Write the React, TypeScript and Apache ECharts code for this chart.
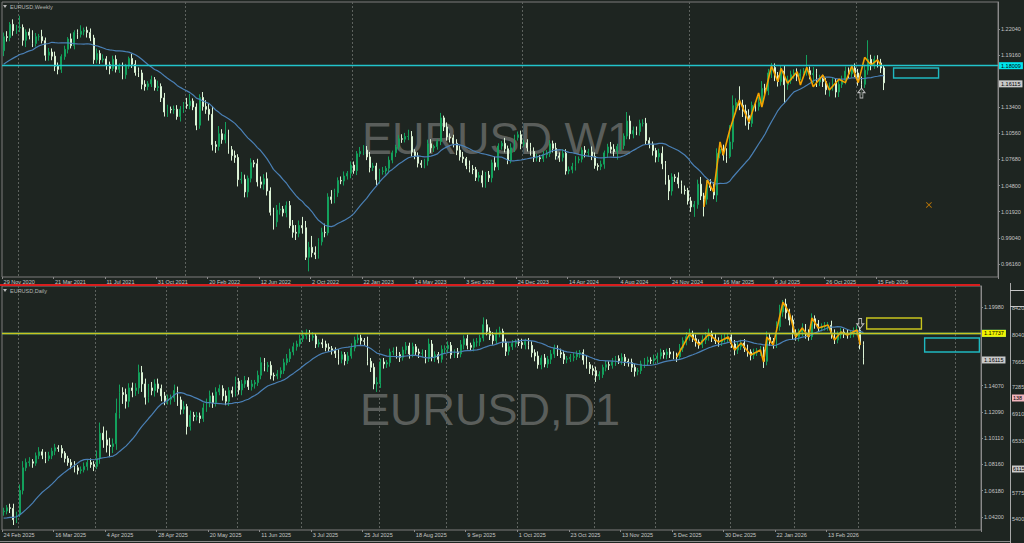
import React, { useEffect, useRef } from 'react';
import * as echarts from 'echarts';

// ---------- tick labels ----------
const TICK_STEP = 16;
const weeklyTicks = ['29 Nov 2020', '21 Mar 2021', '11 Jul 2021', '31 Oct 2021', '20 Feb 2022', '12 Jun 2022', '2 Oct 2022', '22 Jan 2023', '14 May 2023', '3 Sep 2023', '24 Dec 2023', '14 Apr 2024', '4 Aug 2024', '24 Nov 2024', '16 Mar 2025', '6 Jul 2025', '26 Oct 2025', '15 Feb 2026'];
const dailyTicks = ['24 Feb 2025', '16 Mar 2025', '4 Apr 2025', '28 Apr 2025', '20 May 2025', '11 Jun 2025', '3 Jul 2025', '25 Jul 2025', '18 Aug 2025', '9 Sep 2025', '1 Oct 2025', '23 Oct 2025', '13 Nov 2025', '5 Dec 2025', '30 Dec 2025', '22 Jan 2026', '13 Feb 2026'];
const weeklyPriceTicks = [1.2204, 1.1916, 1.134, 1.1056, 1.0768, 1.048, 1.0192, 0.9904, 0.9616];
const dailyPriceTicks = [1.1998, 1.1407, 1.1209, 1.1011, 1.0816, 1.0618, 1.042];
const weeklyGridIdx = [5, 57, 109, 162, 214, 266];
const dailyGridIdx = [5, 29, 51, 73, 93, 117, 138, 160, 184, 203, 226, 246, 266, 296];

// ---------- levels ----------
const cyanLevel = 1.18009;
const yellowLevel = 1.17737;
const bidPrice = 1.16115;
const weeklyBox = [277, 291, 1.1775, 1.1664];
const dailyYellowBox = [268, 285, 1.1915, 1.1833];
const dailyCyanBox = [286, 303, 1.1765, 1.166];
const weeklyArrow = [267, 1.1499];
const weeklyCross = [288, 1.0266];
const dailyArrow = [266, 1.1874];

// ---------- weekly data (bar 0 = week of 29 Nov 2020) ----------
const weeklyOpen0 = 1.1965;
const weeklyPre = [1.1655, 1.1778, 1.1785, 1.184, 1.1795, 1.1905, 1.184, 1.1845, 1.185, 1.163, 1.1715, 1.1825, 1.172, 1.186, 1.1645, 1.1875, 1.1835, 1.1855, 1.1965];
const weeklyClose = [
  1.2120, 1.2110, 1.2255, 1.2185, 1.2215, 1.2220, 1.2080, 1.2170, 1.2135, 1.2045,
  1.2120, 1.2120, 1.2075, 1.1915, 1.1950, 1.1905, 1.1795, 1.1760, 1.1900, 1.1980,
  1.2095, 1.2020, 1.2165, 1.2145, 1.2180, 1.2190, 1.2165, 1.2105, 1.1865, 1.1935,
  1.1865, 1.1875, 1.1810, 1.1770, 1.1870, 1.1760, 1.1795, 1.1700, 1.1795, 1.1880,
  1.1815, 1.1725, 1.1720, 1.1595, 1.1570, 1.1600, 1.1645, 1.1560, 1.1570, 1.1445,
  1.1290, 1.1320, 1.1315, 1.1320, 1.1240, 1.1320, 1.1370, 1.1360, 1.1410, 1.1345,
  1.1145, 1.1450, 1.1350, 1.1320, 1.1265, 1.0930, 1.0910, 1.1050, 1.0985, 1.1045,
  1.0875, 1.0810, 1.0790, 1.0545, 1.0550, 1.0410, 1.0560, 1.0730, 1.0720, 1.0520,
  1.0495, 1.0555, 1.0420, 1.0185, 1.0080, 1.0210, 1.0220, 1.0180, 1.0260, 1.0040,
  0.9965, 0.9955, 1.0040, 1.0015, 0.9690, 0.9800, 0.9740, 0.9720, 0.9860, 0.9965,
  0.9960, 1.0355, 1.0325, 1.0400, 1.0535, 1.0530, 1.0585, 1.0615, 1.0705, 1.0645,
  1.0830, 1.0855, 1.0870, 1.0795, 1.0680, 1.0695, 1.0545, 1.0635, 1.0640, 1.0670,
  1.0760, 1.0840, 1.0905, 1.0995, 1.0990, 1.1020, 1.1020, 1.0850, 1.0805, 1.0725,
  1.0710, 1.0750, 1.0940, 1.0895, 1.0910, 1.0965, 1.1225, 1.1125, 1.1015, 1.1005,
  1.0945, 1.0870, 1.0795, 1.0775, 1.0700, 1.0660, 1.0655, 1.0570, 1.0590, 1.0510,
  1.0595, 1.0565, 1.0730, 1.0685, 1.0915, 1.0945, 1.0885, 1.0760, 1.0895, 1.1010,
  1.1040, 1.0940, 1.0950, 1.0895, 1.0855, 1.0785, 1.0785, 1.0775, 1.0820, 1.0835,
  1.0940, 1.0890, 1.0805, 1.0790, 1.0835, 1.0640, 1.0655, 1.0690, 1.0760, 1.0770,
  1.0870, 1.0845, 1.0850, 1.0800, 1.0700, 1.0690, 1.0715, 1.0840, 1.0905, 1.0880,
  1.0855, 1.0910, 1.0920, 1.1025, 1.1190, 1.1050, 1.1085, 1.1075, 1.1165, 1.1165,
  1.0975, 1.0935, 1.0865, 1.0795, 1.0835, 1.0720, 1.0540, 1.0420, 1.0575, 1.0565,
  1.0500, 1.0430, 1.0425, 1.0310, 1.0245, 1.0270, 1.0495, 1.0365, 1.0330, 1.0490,
  1.0460, 1.0375, 1.0835, 1.0880, 1.0815, 1.0800, 1.0960, 1.1360, 1.1395, 1.1365,
  1.1300, 1.1250, 1.1165, 1.1365, 1.1350, 1.1395, 1.1550, 1.1525, 1.1720, 1.1780,
  1.1690, 1.1625, 1.1740, 1.1590, 1.1640, 1.1700, 1.1720, 1.1685, 1.1715, 1.1735,
  1.1745, 1.1700, 1.1715, 1.1620, 1.1655, 1.1625, 1.1535, 1.1565, 1.1620, 1.1510,
  1.1595, 1.1640, 1.1740, 1.1710, 1.1775, 1.1720, 1.1635, 1.1595, 1.1750, 1.1870,
  1.1810, 1.1870, 1.1830, 1.1775, 1.16115,
];
// upper / lower wick lengths in pips
const weeklyUpWick = [
  45, 60, 25, 55, 35, 130, 35, 30, 40, 55, 40, 30, 75, 35, 45, 40, 50, 40, 25, 40,
  20, 60, 25, 35, 65, 30, 40, 45, 35, 55, 35, 50, 30, 35, 40, 45, 30, 40, 25, 20,
  50, 45, 55, 35, 45, 30, 45, 30, 65, 35, 55, 50, 30, 40, 45, 35, 30, 75, 80, 30,
  40, 35, 60, 70, 65, 90, 40, 85, 50, 135, 50, 40, 55, 35, 80, 50, 30, 50, 30, 55,
  60, 50, 70, 40, 50, 55, 70, 35, 45, 50, 60, 80, 55, 95, 75, 60, 125, 70, 40, 50,
  95, 40, 75, 45, 35, 45, 50, 25, 40, 40, 30, 50, 55, 45, 55, 35, 35, 30, 45, 25,
  40, 25, 25, 40, 50, 40, 75, 60, 30, 40, 35, 25, 45, 50, 20, 25, 55, 25, 50, 40,
  35, 45, 50, 55, 20, 55, 45, 30, 40, 55, 35, 45, 35, 70, 30, 25, 60, 35, 50, 30,
  35, 45, 35, 40, 55, 45, 45, 30, 40, 35, 40, 35, 60, 40, 45, 45, 35, 40, 45, 30,
  30, 45, 35, 60, 45, 25, 40, 25, 35, 55, 55, 30, 65, 30, 100, 60, 45, 45, 40, 45,
  60, 35, 30, 30, 50, 75, 30, 55, 40, 30, 60, 35, 50, 30, 45, 40, 50, 80, 35, 50,
  60, 55, 55, 75, 50, 75, 185, 113, 45, 178, 60, 70, 70, 40, 45, 60, 80, 50, 45, 50,
  45, 40, 55, 60, 50, 45, 40, 50, 45, 40, 173, 45, 70, 50, 45, 45, 40, 50, 45, 40,
  45, 50, 50, 40, 35, 50, 45, 45, 60, 210, 50, 40, 45, 45, 25,
];
const weeklyLowWick = [
  60, 45, 40, 55, 35, 45, 60, 75, 45, 40, 35, 45, 30, 60, 60, 45, 55, 55, 40, 35,
  45, 30, 40, 50, 35, 45, 55, 35, 45, 40, 45, 30, 55, 65, 30, 35, 40, 50, 45, 30,
  40, 35, 45, 55, 45, 40, 35, 35, 40, 45, 50, 55, 40, 45, 35, 55, 40, 35, 40, 35,
  55, 40, 45, 50, 70, 65, 70, 45, 45, 40, 45, 55, 60, 75, 45, 60, 60, 45, 40, 50,
  45, 60, 50, 35, 85, 55, 50, 40, 50, 30, 60, 75, 45, 65, 30, 155, 50, 50, 45, 40,
  50, 30, 45, 40, 45, 35, 50, 40, 55, 35, 50, 35, 40, 35, 55, 40, 60, 45, 35, 40,
  55, 35, 45, 30, 40, 35, 40, 50, 35, 45, 35, 40, 50, 55, 45, 35, 40, 45, 40, 50,
  45, 55, 40, 45, 40, 35, 50, 40, 45, 50, 55, 45, 50, 40, 35, 40, 40, 45, 35, 45,
  35, 60, 35, 40, 45, 45, 40, 35, 35, 40, 40, 45, 40, 50, 45, 40, 35, 40, 45, 35,
  35, 55, 50, 40, 35, 45, 40, 50, 55, 45, 55, 90, 45, 40, 35, 60, 50, 40, 45, 35,
  40, 45, 55, 60, 55, 60, 50, 100, 50, 45, 50, 40, 45, 40, 55, 110, 45, 45, 190, 60,
  40, 45, 75, 55, 60, 70, 20, 80, 95, 55, 65, 110, 70, 40, 55, 45, 35, 60, 50, 55,
  60, 55, 45, 200, 55, 40, 45, 55, 45, 50, 45, 50, 90, 55, 45, 60, 55, 75, 40, 60,
  55, 40, 45, 50, 40, 45, 55, 120, 40, 50, 60, 45, 50, 55, 80,
];
const weeklyZigIdx = [218, 219, 221, 223, 224, 226, 227, 229, 232, 235, 236, 239, 241, 242, 244, 247, 248, 250, 252, 255, 257, 260, 262, 264, 266, 268, 270, 272, 273];
const weeklyZigVal = [1.0244, 1.0541, 1.0409, 1.096, 1.0816, 1.1092, 1.1202, 1.1422, 1.118, 1.1499, 1.1345, 1.1797, 1.1624, 1.1771, 1.1606, 1.1734, 1.1587, 1.1782, 1.1569, 1.1697, 1.1532, 1.165, 1.1613, 1.1797, 1.1613, 1.1892, 1.1808, 1.1863, 1.1808];

// ---------- daily data (bar 0 = 24 Feb 2025) ----------
const dailyOpen0 = 1.046;
const dailyPre = [1.043, 1.042, 1.039, 1.036, 1.0345, 1.038, 1.0405, 1.038, 1.033, 1.0305, 1.036, 1.0385, 1.0465, 1.049, 1.0485, 1.0445, 1.042, 1.0505, 1.046];
const dailyClose = [
  1.0465, 1.0490, 1.0485, 1.0400, 1.0440, 1.0620, 1.0790, 1.0830, 1.0835, 1.0825,
  1.0880, 1.0910, 1.0885, 1.0860, 1.0880, 1.0915, 1.0940, 1.0935, 1.0900, 1.0860,
  1.0830, 1.0810, 1.0790, 1.0770, 1.0775, 1.0800, 1.0830, 1.0815, 1.0800, 1.0860,
  1.1050, 1.1000, 1.0960, 1.0950, 1.0970, 1.1200, 1.1355, 1.1340, 1.1290, 1.1390,
  1.1370, 1.1390, 1.1505, 1.1420, 1.1320, 1.1390, 1.1370, 1.1420, 1.1385, 1.1330,
  1.1295, 1.1305, 1.1315, 1.1370, 1.1300, 1.1230, 1.1250, 1.1100, 1.1185, 1.1175,
  1.1180, 1.1160, 1.1240, 1.1280, 1.1330, 1.1280, 1.1360, 1.1385, 1.1330, 1.1290,
  1.1370, 1.1350, 1.1440, 1.1375, 1.1420, 1.1445, 1.1400, 1.1420, 1.1430, 1.1485,
  1.1580, 1.1550, 1.1560, 1.1485, 1.1480, 1.1495, 1.1520, 1.1580, 1.1610, 1.1660,
  1.1700, 1.1720, 1.1760, 1.1785, 1.1800, 1.1770, 1.1780, 1.1720, 1.1730, 1.1720,
  1.1695, 1.1685, 1.1670, 1.1650, 1.1605, 1.1640, 1.1595, 1.1630, 1.1690, 1.1750,
  1.1765, 1.1745, 1.1740, 1.1590, 1.1545, 1.1420, 1.1430, 1.1585, 1.1570, 1.1580,
  1.1660, 1.1665, 1.1640, 1.1620, 1.1675, 1.1705, 1.1645, 1.1700, 1.1660, 1.1650,
  1.1650, 1.1610, 1.1720, 1.1620, 1.1640, 1.1605, 1.1680, 1.1685, 1.1710, 1.1640,
  1.1660, 1.1645, 1.1715, 1.1760, 1.1710, 1.1695, 1.1735, 1.1735, 1.1765, 1.1865,
  1.1815, 1.1785, 1.1745, 1.1800, 1.1815, 1.1735, 1.1665, 1.1700, 1.1725, 1.1735,
  1.1730, 1.1715, 1.1740, 1.1710, 1.1655, 1.1630, 1.1565, 1.1615, 1.1570, 1.1605,
  1.1645, 1.1690, 1.1655, 1.1645, 1.1605, 1.1610, 1.1620, 1.1625, 1.1645, 1.1655,
  1.1600, 1.1565, 1.1535, 1.1520, 1.1480, 1.1490, 1.1545, 1.1565, 1.1560, 1.1585,
  1.1610, 1.1595, 1.1620, 1.1590, 1.1580, 1.1545, 1.1515, 1.1520, 1.1570, 1.1585,
  1.1600, 1.1595, 1.1610, 1.1630, 1.1655, 1.1640, 1.1660, 1.1645, 1.1630, 1.1625,
  1.1690, 1.1745, 1.1775, 1.1795, 1.1760, 1.1735, 1.1715, 1.1750, 1.1780, 1.1795,
  1.1765, 1.1745, 1.1735, 1.1755, 1.1765, 1.1773, 1.1720, 1.1675, 1.1700, 1.1727,
  1.1690, 1.1660, 1.1637, 1.1655, 1.1665, 1.1675, 1.1590, 1.1770, 1.1740, 1.1715,
  1.1850, 1.1960, 1.2020, 1.1955, 1.1900, 1.1800, 1.1775, 1.1810, 1.1840, 1.1800,
  1.1775, 1.1910, 1.1870, 1.1840, 1.1850, 1.1855, 1.1860, 1.1800, 1.1750, 1.1790,
  1.1810, 1.1800, 1.1790, 1.1800, 1.1815, 1.1825, 1.1715, 1.16115,
];
const dailyUpWick = [
  25, 20, 30, 35, 20, 45, 50, 30, 35, 20, 25, 35, 20, 25, 30, 25, 30, 20, 25, 15,
  20, 25, 30, 20, 25, 30, 20, 30, 25, 60, 80, 50, 70, 55, 40, 110, 60, 40, 45, 35,
  40, 35, 60, 50, 40, 30, 45, 35, 40, 30, 30, 35, 25, 45, 30, 25, 40, 20, 35, 25,
  30, 25, 35, 30, 40, 25, 35, 30, 25, 40, 25, 30, 35, 25, 30, 35, 25, 30, 20, 35,
  40, 35, 25, 30, 20, 30, 25, 30, 35, 25, 30, 25, 30, 35, 30, 25, 30, 20, 25, 30,
  25, 30, 20, 25, 30, 25, 20, 30, 35, 25, 30, 25, 20, 35, 25, 30, 40, 25, 30, 20,
  25, 30, 35, 20, 25, 30, 25, 30, 20, 25, 30, 25, 40, 30, 25, 20, 30, 25, 30, 25,
  20, 30, 35, 25, 30, 20, 25, 30, 25, 55, 40, 30, 25, 30, 35, 20, 25, 30, 25, 20,
  25, 30, 20, 25, 30, 25, 35, 20, 30, 25, 30, 25, 20, 30, 25, 20, 25, 30, 25, 20,
  25, 30, 20, 25, 30, 25, 20, 30, 25, 30, 20, 25, 30, 25, 20, 30, 25, 20, 25, 30,
  25, 20, 30, 25, 30, 20, 25, 30, 20, 25, 30, 25, 35, 40, 25, 30, 20, 35, 30, 40,
  25, 30, 25, 35, 30, 25, 20, 30, 35, 25, 30, 25, 20, 30, 25, 30, 25, 45, 30, 25,
  40, 55, 30, 40, 30, 35, 30, 25, 35, 30, 30, 40, 25, 30, 25, 30, 25, 35, 30, 25,
  30, 25, 30, 25, 30, 35, 30, 25,
];
const dailyLowWick = [
  30, 25, 35, 40, 25, 20, 30, 25, 30, 35, 20, 25, 30, 35, 20, 25, 30, 25, 35, 30,
  25, 30, 35, 30, 25, 20, 30, 25, 35, 20, 40, 60, 55, 80, 50, 45, 40, 70, 55, 45,
  50, 40, 45, 60, 55, 40, 35, 45, 30, 40, 35, 30, 40, 30, 45, 40, 35, 60, 30, 35,
  30, 35, 25, 30, 35, 40, 30, 25, 35, 30, 35, 30, 25, 35, 40, 30, 25, 30, 35, 25,
  30, 35, 40, 30, 35, 25, 30, 25, 20, 25, 25, 30, 20, 25, 30, 35, 25, 30, 25, 30,
  30, 25, 30, 35, 40, 30, 35, 25, 20, 25, 25, 30, 35, 30, 35, 40, 60, 40, 35, 30,
  30, 25, 30, 35, 25, 30, 35, 25, 30, 35, 30, 35, 25, 30, 35, 30, 25, 30, 35, 30,
  25, 30, 25, 35, 30, 25, 30, 35, 30, 25, 30, 35, 30, 25, 30, 40, 35, 30, 25, 30,
  25, 30, 35, 30, 35, 40, 30, 35, 25, 30, 35, 30, 25, 30, 35, 30, 25, 30, 25, 30,
  35, 30, 40, 35, 45, 30, 25, 30, 35, 25, 30, 25, 30, 35, 30, 35, 40, 30, 25, 30,
  30, 25, 30, 35, 25, 30, 35, 30, 25, 40, 25, 30, 35, 30, 25, 35, 30, 25, 30, 35,
  30, 25, 35, 30, 25, 35, 30, 40, 30, 25, 30, 35, 40, 30, 25, 35, 50, 30, 35, 30,
  25, 30, 35, 45, 40, 50, 30, 35, 30, 40, 30, 25, 35, 30, 25, 30, 35, 40, 30, 25,
  30, 35, 30, 25, 30, 30, 35, 45,
];
const dailyZigIdx = [209, 213, 216, 219, 222, 225, 227, 229, 232, 235, 236, 237, 239, 242, 244, 246, 248, 250, 251, 253, 256, 258, 260, 262, 265, 266];
const dailyZigVal = [1.1622, 1.1795, 1.1713, 1.1795, 1.1735, 1.1773, 1.1675, 1.1727, 1.1637, 1.1675, 1.1585, 1.1773, 1.1713, 1.2035, 1.1953, 1.1773, 1.184, 1.1773, 1.1915, 1.184, 1.1863, 1.175, 1.181, 1.1788, 1.1825, 1.1713];

// ---------- styling ----------
const FONT = '"Liberation Sans", Arial, sans-serif';
const BG = '#1e2521';
const BULL = '#13a05c';
const BEAR = '#dcf3d6';
const GRIDLINE = '#5d625e';
const AXIS = '#8a8a8a';
const LABEL = '#c6c6c6';
const W_N = 310;
const D_N = 304;

function buildOHLC(open0: number, closes: number[], up: number[], lo: number[]) {
  return closes.map((c, i) => {
    const o = i === 0 ? open0 : closes[i - 1];
    const h = Math.max(o, c) + (up[i] || 0) / 10000;
    const l = Math.min(o, c) - (lo[i] || 0) / 10000;
    return [o, c, +l.toFixed(5), +h.toFixed(5)];
  });
}
function sma(pre: number[], closes: number[], n: number) {
  const all = pre.concat(closes);
  return closes.map((_, i) => {
    let s = 0;
    for (let k = 0; k < n; k++) s += all[i + pre.length - k];
    return +(s / n).toFixed(5);
  });
}
function sparse(n: number, idx: number[], vals: number[]) {
  const a: (number | null)[] = new Array(n).fill(null);
  idx.forEach((k, j) => { a[k] = vals[j]; });
  return a;
}

function xAxisFor(gridIndex: number, n: number, ticks: string[], gridIdx: number[]) {
  const show = (i: number) => i % TICK_STEP === 0 && i / TICK_STEP < ticks.length;
  return {
    type: 'category', gridIndex, boundaryGap: true,
    data: Array.from({ length: n }, (_, i) => String(i)),
    axisLine: { show: false },
    axisTick: { show: true, interval: show, length: 2, lineStyle: { color: AXIS } },
    axisLabel: {
      show: true, interval: show, align: 'left', margin: 2, fontSize: 5.5, color: LABEL, fontFamily: FONT,
      formatter: (v: string) => ticks[Number(v) / TICK_STEP] ?? '',
    },
    splitLine: { show: true, interval: (i: number) => gridIdx.includes(i), lineStyle: { color: GRIDLINE, type: [2, 2], width: 1 } },
  };
}
function yAxisFor(gridIndex: number, min: number, max: number, ticks: number[]) {
  return {
    type: 'value', gridIndex, position: 'right', min, max,
    axisLine: { show: true, lineStyle: { color: AXIS } },
    axisTick: { show: true, customValues: ticks, length: 2, lineStyle: { color: AXIS } },
    axisLabel: { show: true, customValues: ticks, margin: 3, fontSize: 5.5, color: LABEL, fontFamily: FONT, formatter: (v: number) => v.toFixed(5) },
    splitLine: { show: false },
  };
}
const boxLabel = (bg: string, text: string) => ({
  show: true, position: 'end', distance: 1, formatter: text, backgroundColor: bg, color: '#000',
  fontSize: 5.5, fontFamily: FONT, padding: [1, 2, 0, 2], lineHeight: 6,
});
const upArrow = 'path://M5,0 L10,5 L7,5 L7,11 L3,11 L3,5 L0,5 Z';
const downArrow = 'path://M3,0 L7,0 L7,6 L10,6 L5,11 L0,6 L3,6 Z';
const crossSym = 'path://M0,1 L1,0 L5,4 L9,0 L10,1 L6,5 L10,9 L9,10 L5,6 L1,10 L0,9 L4,5 Z';

function buildOption() {
  const wOHLC = buildOHLC(weeklyOpen0, weeklyClose, weeklyUpWick, weeklyLowWick);
  const dOHLC = buildOHLC(dailyOpen0, dailyClose, dailyUpWick, dailyLowWick);
  const candleStyle = { color: BULL, color0: BEAR, borderColor: BULL, borderColor0: BEAR, borderWidth: 1 };
  const sideTexts = [
    ['8420', 308], ['8040', 335], ['7665', 362], ['7285', 387], ['6910', 414], ['6530', 441], ['5775', 493], ['5400', 519],
  ];
  return {
    animation: false,
    backgroundColor: BG,
    grid: [
      { left: 2, top: 2, right: 26, height: 275, show: true, borderColor: '#7c7c7c', borderWidth: 1, backgroundColor: 'transparent' },
      { left: 2, top: 286, right: 43, height: 244, show: true, borderColor: '#7c7c7c', borderWidth: 1, backgroundColor: 'transparent' },
    ],
    xAxis: [xAxisFor(0, W_N, weeklyTicks, weeklyGridIdx), xAxisFor(1, D_N, dailyTicks, dailyGridIdx)],
    yAxis: [yAxisFor(0, 0.94727, 1.25014, weeklyPriceTicks), yAxisFor(1, 1.03226, 1.21558, dailyPriceTicks)],
    series: [
      {
        type: 'candlestick', name: 'EURUSD,Weekly', xAxisIndex: 0, yAxisIndex: 0, data: wOHLC, barWidth: 1.4, itemStyle: candleStyle,
        markLine: {
          symbol: ['none', 'none'], silent: true,
          data: [
            { yAxis: cyanLevel, lineStyle: { color: '#22c4cc', width: 1.3, type: 'solid' }, label: boxLabel('#00e6ee', '1.18009') },
            { yAxis: bidPrice, lineStyle: { color: 'rgba(0,0,0,0)', width: 0 }, label: boxLabel('#c9c9c9', '1.16115') },
          ],
        },
        markArea: {
          silent: true,
          itemStyle: { color: 'rgba(0,0,0,0)', borderColor: '#1fb8c0', borderWidth: 1.4 },
          data: [[{ xAxis: weeklyBox[0], yAxis: weeklyBox[2] }, { xAxis: weeklyBox[1], yAxis: weeklyBox[3] }]],
        },
      },
      {
        type: 'line', xAxisIndex: 0, yAxisIndex: 0, data: sma(weeklyPre, weeklyClose, 20), symbol: 'none',
        lineStyle: { color: '#4a80b6', width: 1.2 }, z: 3,
      },
      {
        type: 'line', xAxisIndex: 0, yAxisIndex: 0, data: sparse(W_N, weeklyZigIdx, weeklyZigVal), connectNulls: true, symbol: 'none',
        lineStyle: { color: '#f4a200', width: 1.6 }, z: 4,
      },
      {
        type: 'scatter', xAxisIndex: 0, yAxisIndex: 0, z: 5,
        data: [
          { value: weeklyArrow, symbol: upArrow, symbolSize: [7, 10], itemStyle: { color: BG, borderColor: '#e2e2e2', borderWidth: 1 } },
          { value: weeklyCross, symbol: crossSym, symbolSize: [6, 6], itemStyle: { color: '#e08a00' } },
        ],
      },
      {
        type: 'candlestick', name: 'EURUSD,Daily', xAxisIndex: 1, yAxisIndex: 1, data: dOHLC, barWidth: 1.4, itemStyle: candleStyle,
        markLine: {
          symbol: ['none', 'none'], silent: true,
          data: [
            { yAxis: cyanLevel, lineStyle: { color: '#22c4cc', width: 1.3, type: 'solid' }, label: boxLabel('#00e6ee', '1.18009') },
            { yAxis: yellowLevel, lineStyle: { color: '#c8c41e', width: 1.3, type: 'solid' }, label: boxLabel('#f2f200', '1.17737') },
            { yAxis: bidPrice, lineStyle: { color: 'rgba(0,0,0,0)', width: 0 }, label: boxLabel('#c9c9c9', '1.16115') },
          ],
        },
        markArea: {
          silent: true,
          data: [
            [{ xAxis: dailyYellowBox[0], yAxis: dailyYellowBox[2], itemStyle: { color: 'rgba(0,0,0,0)', borderColor: '#c8c41e', borderWidth: 1.4 } }, { xAxis: dailyYellowBox[1], yAxis: dailyYellowBox[3] }],
            [{ xAxis: dailyCyanBox[0], yAxis: dailyCyanBox[2], itemStyle: { color: 'rgba(0,0,0,0)', borderColor: '#1fb8c0', borderWidth: 1.4 } }, { xAxis: dailyCyanBox[1], yAxis: dailyCyanBox[3] }],
          ],
        },
      },
      {
        type: 'line', xAxisIndex: 1, yAxisIndex: 1, data: sma(dailyPre, dailyClose, 20), symbol: 'none',
        lineStyle: { color: '#4a80b6', width: 1.2 }, z: 3,
      },
      {
        type: 'line', xAxisIndex: 1, yAxisIndex: 1, data: sparse(D_N, dailyZigIdx, dailyZigVal), connectNulls: true, symbol: 'none',
        lineStyle: { color: '#f4a200', width: 1.6 }, z: 4,
      },
      {
        type: 'scatter', xAxisIndex: 1, yAxisIndex: 1, z: 5,
        data: [{ value: dailyArrow, symbol: downArrow, symbolSize: [7, 10], itemStyle: { color: BG, borderColor: '#e2e2e2', borderWidth: 1 } }],
      },
    ],
    graphic: [
      { type: 'text', x: 497, y: 138, z: 0, silent: true, style: { text: 'EURUSD,W1', fill: '#5a5e5b', fontSize: 45, fontFamily: FONT, align: 'center', verticalAlign: 'middle' } },
      { type: 'text', x: 490, y: 409, z: 0, silent: true, style: { text: 'EURUSD,D1', fill: '#5a5e5b', fontSize: 45, fontFamily: FONT, align: 'center', verticalAlign: 'middle' } },
      { type: 'polygon', z: 10, shape: { points: [[3, 5], [7, 5], [5, 8]] }, style: { fill: '#b8b8b8' } },
      { type: 'text', x: 10, y: 6.5, z: 10, style: { text: 'EURUSD,Weekly', fill: '#b4b6b4', fontSize: 5.5, fontFamily: FONT, verticalAlign: 'middle' } },
      { type: 'polygon', z: 10, shape: { points: [[3, 289], [7, 289], [5, 292]] }, style: { fill: '#b8b8b8' } },
      { type: 'text', x: 10, y: 290.5, z: 10, style: { text: 'EURUSD,Daily', fill: '#b4b6b4', fontSize: 5.5, fontFamily: FONT, verticalAlign: 'middle' } },
      { type: 'rect', z: 100, shape: { x: 0, y: 284, width: 980, height: 2 }, style: { fill: '#d81e1e' } },
      { type: 'line', z: 100, shape: { x1: 1010.5, y1: 283, x2: 1010.5, y2: 543 }, style: { stroke: '#a8a8a8', lineWidth: 1 } },
      { type: 'line', z: 100, shape: { x1: 1010, y1: 290.5, x2: 1024, y2: 290.5 }, style: { stroke: '#c8c8c8', lineWidth: 1 } },
      { type: 'line', z: 100, shape: { x1: 1010, y1: 306.5, x2: 1024, y2: 306.5 }, style: { stroke: '#c8c8c8', lineWidth: 1 } },
      { type: 'line', z: 100, shape: { x1: 0, y1: 541.5, x2: 1010, y2: 541.5 }, style: { stroke: '#8a8a8a', lineWidth: 1 } },
      ...sideTexts.map(([t, y]) => ({
        type: 'text', x: 1012, y: y as number, z: 100,
        style: { text: t as string, fill: LABEL, fontSize: 5.5, fontFamily: FONT, verticalAlign: 'middle' },
      })),
      { type: 'text', x: 1012, y: 469, z: 100, style: { text: '6115', fill: '#000', backgroundColor: '#c9c9c9', padding: [1, 2, 0, 1], fontSize: 5.5, fontFamily: FONT, verticalAlign: 'middle' } },
      { type: 'text', x: 1012, y: 398, z: 100, style: { text: '138', fill: '#000', backgroundColor: '#f2b4bc', padding: [1, 4, 0, 1], fontSize: 5.5, fontFamily: FONT, verticalAlign: 'middle' } },
    ],
  };
}

export default function App() {
  const ref = useRef<HTMLDivElement>(null);
  useEffect(() => {
    document.body.style.margin = '0';
    const chart = echarts.init(ref.current as HTMLDivElement, null, { renderer: 'svg' });
    chart.setOption(buildOption() as any);
    return () => chart.dispose();
  }, []);
  return <div ref={ref} style={{ width: 1024, height: 543 }} />;
}
